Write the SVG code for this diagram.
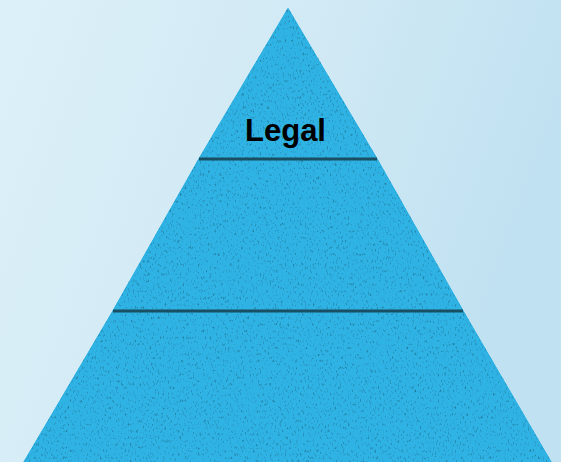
<svg xmlns="http://www.w3.org/2000/svg" width="561" height="462" viewBox="0 0 561 462">
<defs>
<linearGradient id="bg" x1="0" y1="0" x2="1" y2="0.3">
<stop offset="0" stop-color="#dcf0f8"/>
<stop offset="0.5" stop-color="#d2eaf5"/>
<stop offset="1" stop-color="#c0e1f1"/>
</linearGradient>
<filter id="tex" x="0" y="0" width="100%" height="100%" color-interpolation-filters="sRGB">
<feTurbulence type="fractalNoise" baseFrequency="0.6 0.3" numOctaves="3" seed="7" result="n"/>
<feColorMatrix in="n" type="matrix" values="1.0 0 0 0 0.58  1.0 0 0 0 0.58  1.0 0 0 0 0.58  0 0 0 0 1" result="g"/>
<feBlend in="SourceGraphic" in2="g" mode="multiply" result="m"/>
<feComposite in="m" in2="SourceGraphic" operator="in"/>
</filter>
<style>
.tier{fill:#2fb2e4;filter:url(#tex)}
.div{stroke:#184f63;stroke-width:3;fill:none}
.lbl{font-family:"Liberation Sans",Arial,sans-serif;font-weight:bold;font-size:31px;fill:#000;text-anchor:middle}
</style>
</defs>
<rect width="561" height="462" fill="url(#bg)"/>
<g id="tier-top">
<polygon class="tier" points="288,7 378,159 198,159"/>
<text class="lbl" x="285.5" y="141">Legal</text>
</g>
<g id="tier-middle">
<polygon class="tier" points="198,159 378,159 464,311 112,311"/>
</g>
<g id="tier-bottom">
<polygon class="tier" points="112,311 464,311 552,462 23,462"/>
</g>
<g id="connectors">
<line class="div" x1="199" y1="159" x2="377" y2="159"/>
<line class="div" x1="113" y1="311" x2="463" y2="311"/>
</g>
</svg>
